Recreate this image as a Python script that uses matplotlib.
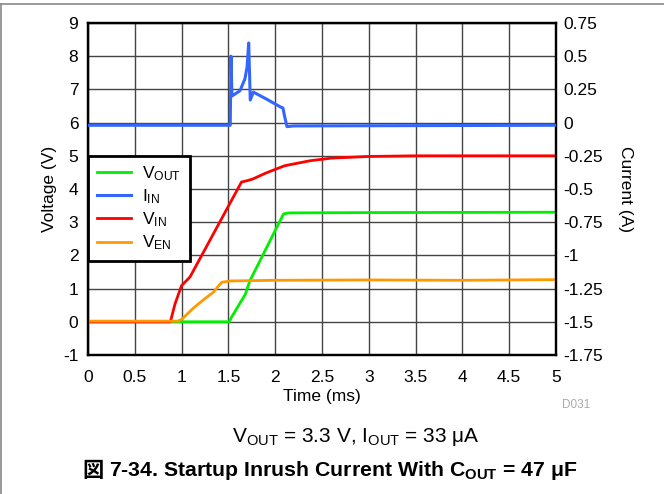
import matplotlib
matplotlib.use("Agg")
from matplotlib import pyplot as plt
from matplotlib.lines import Line2D

plt.rcParams['font.family'] = ['Liberation Sans', 'Noto Sans CJK JP', 'DejaVu Sans']
plt.rcParams['mathtext.fontset'] = 'custom'
plt.rcParams['mathtext.rm'] = 'Liberation Sans'
plt.rcParams['mathtext.it'] = 'Liberation Sans'
plt.rcParams['mathtext.bf'] = 'Liberation Sans:bold'
plt.rcParams['mathtext.default'] = 'regular'
plt.rcParams['axes.unicode_minus'] = False

# 数据
t_vout = [0, 1.51, 1.53, 1.60, 1.68, 1.73, 1.84, 2.00, 2.09, 2.15, 3.0, 5.0]
v_vout = [0.0, 0.0, 0.12, 0.45, 0.82, 1.24, 1.85, 2.75, 3.25, 3.28, 3.29, 3.3]

t_iin = [0, 1.52, 1.528, 1.538, 1.624, 1.677, 1.70, 1.717, 1.734, 1.766, 1.90,
         2.051, 2.083, 2.10, 2.126, 2.20, 5.0]
i_iin = [-0.02, -0.02, 0.5, 0.2, 0.24, 0.33, 0.42, 0.6, 0.17, 0.23, 0.18,
         0.12, 0.11, 0.05, -0.03, -0.025, -0.02]

t_vin = [0, 0.88, 0.93, 1.0, 1.09, 1.64, 1.70, 1.76, 1.9, 2.1, 2.37, 2.6, 3.0, 3.5, 5.0]
v_vin = [0.0, 0.0, 0.54, 1.09, 1.35, 4.21, 4.25, 4.3, 4.48, 4.70, 4.85, 4.93, 4.98, 5.0, 5.0]

t_ven = [0, 0.96, 1.0, 1.125, 1.25, 1.34, 1.40, 1.43, 1.52, 2.0, 3.0, 4.0, 5.0]
v_ven = [0.02, 0.02, 0.07, 0.41, 0.70, 0.89, 1.10, 1.19, 1.23, 1.25, 1.26, 1.25, 1.27]

fig = plt.figure(figsize=(6.64, 4.94), dpi=100)
ax = fig.add_axes([0.1325, 0.2814, 0.7048, 0.672])
ax2 = ax.twinx()

l1, = ax.plot(t_vout, v_vout, c='#00ee00', lw=2, label=r'V$_{OUT}$', zorder=3)
l2, = ax2.plot(t_iin, i_iin, c='#3366ff', lw=2.2, label=r'I$_{IN}$', zorder=3)
l3, = ax.plot(t_vin, v_vin, c='#ff0000', lw=2, label=r'V$_{IN}$', zorder=3)
l4, = ax.plot(t_ven, v_ven, c='#ff9900', lw=2, label=r'V$_{EN}$', zorder=3)

ax.set_xlim(0, 5)
ax.set_ylim(-1, 9)
ax2.set_ylim(-1.75, 0.75)
ax.set_xticks([0, 0.5, 1, 1.5, 2, 2.5, 3, 3.5, 4, 4.5, 5])
ax.set_xticklabels(['0', '0.5', '1', '1.5', '2', '2.5', '3', '3.5', '4', '4.5', '5'])
ax.set_yticks(range(-1, 10))
ax2.set_yticks([-1.75, -1.5, -1.25, -1, -0.75, -0.5, -0.25, 0, 0.25, 0.5, 0.75])
ax2.set_yticklabels(['-1.75', '-1.5', '-1.25', '-1', '-0.75', '-0.5', '-0.25', '0', '0.25', '0.5', '0.75'])
ax.grid(True, color='#444444', lw=1)
ax.tick_params(axis='y', length=0, labelsize=12.5, pad=7)
ax.tick_params(axis='x', length=0, labelsize=12.5, pad=11)
ax2.tick_params(length=0, labelsize=12.5, pad=5)
for a in (ax, ax2):
    for s in a.spines.values():
        s.set_linewidth(1.6)

ax.set_xlabel('Time (ms)', fontsize=12.5, labelpad=3)
ax.set_ylabel('Voltage (V)', fontsize=12.5, labelpad=4)
ax2.set_ylabel('Current (A)', fontsize=12.5, rotation=270, labelpad=22)

leg = ax.legend(handles=[l1, l2, l3, l4], loc='upper left', bbox_to_anchor=(0, 0.6),
                fontsize=12.5, fancybox=False, framealpha=1, edgecolor='black',
                borderaxespad=0, handlelength=2.0, handletextpad=0.6,
                labelspacing=0.25, borderpad=0.5)
leg.get_frame().set_linewidth(2)
leg.set_zorder(5)

fig.text(0.868, 0.18, 'D031', fontsize=8.5, color='#aaaaaa', ha='center', va='center')
fig.text(0.536, 0.115, r'V$_{OUT}$ = 3.3 V, I$_{OUT}$ = 33 μA', fontsize=15,
         ha='center', va='center')
cap = fig.text(0.517, 0.048, r'7-34. Startup Inrush Current With C$_{\mathbf{OUT}}$ = 47 μF',
               fontsize=15.3, fontweight='bold', ha='center', va='center')
# "図" 单独绘制, mathtext 不支持字体回退
ax.annotate('図 ', xy=(0, 0.5), xycoords=cap, ha='right', va='center',
            fontsize=15.3, fontweight='bold', family=['Noto Sans CJK JP', 'DejaVu Sans'],
            annotation_clip=False)

# 页面边框
fig.add_artist(Line2D([0.0015, 0.0015], [0, 0.992], transform=fig.transFigure, color='#888888', lw=1.2))
fig.add_artist(Line2D([0, 1], [0.992, 0.992], transform=fig.transFigure, color='#888888', lw=1.2))

plt.savefig('out.png', dpi=100)
